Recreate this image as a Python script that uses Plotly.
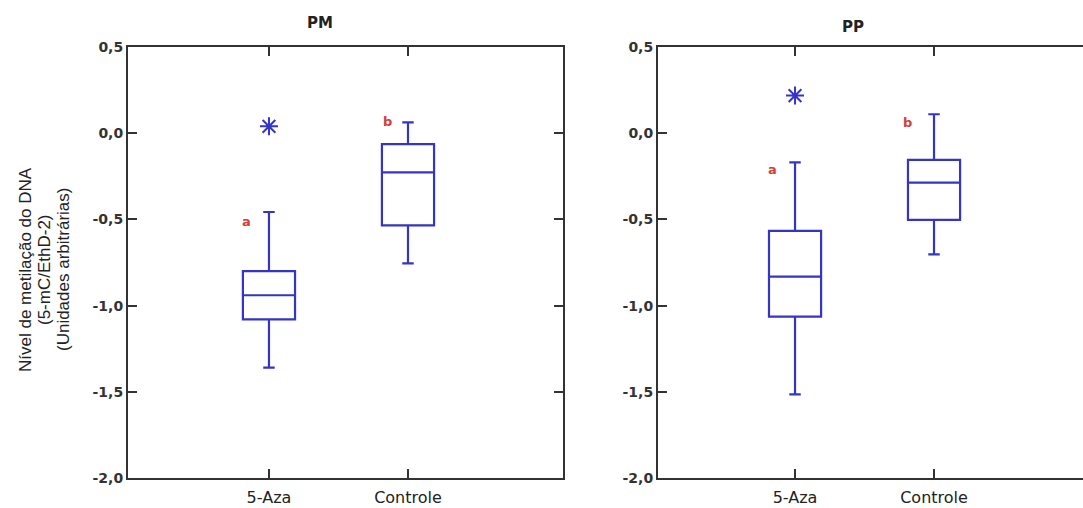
import plotly.graph_objects as go

# ---- data ----
groups = ["5-Aza", "Controle"]
group_pos = [1, 2]

pm_q1 = [-1.08, -0.535]
pm_median = [-0.94, -0.227]
pm_q3 = [-0.80, -0.063]
pm_low = [-1.36, -0.755]
pm_high = [-0.457, 0.063]
pm_outlier = [0.04]

pp_q1 = [-1.064, -0.503]
pp_median = [-0.832, -0.287]
pp_q3 = [-0.567, -0.155]
pp_low = [-1.515, -0.703]
pp_high = [-0.169, 0.11]
pp_outlier = [0.218]

letters = ["a", "b"]
pm_letter_x = [0.835, 1.856]
pm_letter_y = [-0.515, 0.07]
pp_letter_x = [0.835, 1.806]
pp_letter_y = [-0.213, 0.06]

ytick_vals = [0.5, 0.0, -0.5, -1.0, -1.5, -2.0]
ytick_text = ["0,5", "0,0", "-0,5", "-1,0", "-1,5", "-2,0"]

ylabel_lines = ["Nível de metilação do DNA", "(5-mC/EthD-2)", "(Unidades arbitrárias)"]

W, H = 1083, 508
BLUE = "#3434c8"
RED = "#d2403a"
AX = "#333333"

fig = go.Figure()

def add_panel(xa, ya, q1, med, q3, lo, hi, outl):
    fig.add_trace(go.Box(
        x=group_pos, q1=q1, median=med, q3=q3, lowerfence=lo, upperfence=hi,
        width=0.375, whiskerwidth=0.22, boxpoints=False,
        line=dict(color=BLUE, width=2.2), fillcolor="rgba(0,0,0,0)",
        xaxis=xa, yaxis=ya, showlegend=False, hoverinfo="skip"))
    fig.add_trace(go.Scatter(
        x=[group_pos[0]] * len(outl), y=outl, mode="markers",
        marker=dict(symbol="asterisk-open", size=15, color=BLUE,
                    line=dict(color=BLUE, width=2)),
        xaxis=xa, yaxis=ya, showlegend=False, hoverinfo="skip"))

add_panel("x", "y", pm_q1, pm_median, pm_q3, pm_low, pm_high, pm_outlier)
add_panel("x2", "y2", pp_q1, pp_median, pp_q3, pp_low, pp_high, pp_outlier)

def px_x(p):
    return p / W

def px_y(p):
    return 1 - p / H

ydom = [px_y(478), px_y(47)]

xcommon = dict(tickvals=group_pos, ticktext=groups, ticks="inside", ticklen=9,
               tickwidth=2, tickcolor=AX, showline=True, linecolor=AX, linewidth=2,
               mirror="ticks", showgrid=False, zeroline=False, automargin=False,
               ticklabelstandoff=4,
               tickfont=dict(family="DejaVu Sans", size=16, color="#222222"))
ycommon = dict(range=[-2.0, 0.5], tickvals=ytick_vals, ticktext=ytick_text,
               ticks="inside", ticklen=9, tickwidth=2, tickcolor=AX, showline=True,
               linecolor=AX, linewidth=2, showgrid=False, zeroline=False, automargin=False,
               tickfont=dict(family="DejaVu Sans", size=14, color="#333333", weight="bold"))

fig.update_layout(
    width=W, height=H,
    margin=dict(l=0, r=0, t=0, b=0),
    paper_bgcolor="white", plot_bgcolor="white",
    xaxis=dict(domain=[px_x(128), px_x(563)], range=[-0.014, 3.115], anchor="y", **xcommon),
    yaxis=dict(domain=ydom, anchor="x", mirror="ticks", **ycommon),
    xaxis2=dict(domain=[px_x(658), 1.0], range=[0.014, 3.072], anchor="y2", **xcommon),
    yaxis2=dict(domain=ydom, anchor="x2", mirror=False, **ycommon),
)

ann = []
ann.append(dict(text="<b>PM</b>", x=px_x(320), y=px_y(23), xref="paper", yref="paper",
                xanchor="center", yanchor="middle", showarrow=False,
                font=dict(family="DejaVu Sans", size=15, color="#222222")))
ann.append(dict(text="<b>PP</b>", x=px_x(853), y=px_y(27), xref="paper", yref="paper",
                xanchor="center", yanchor="middle", showarrow=False,
                font=dict(family="DejaVu Sans", size=15, color="#222222")))
for line, xp in zip(ylabel_lines, [25, 44, 63]):
    ann.append(dict(text=line, x=px_x(xp), y=px_y(270), xref="paper", yref="paper",
                    xanchor="center", yanchor="middle", textangle=-90, showarrow=False,
                    font=dict(family="Liberation Sans", size=17, color="#222222")))
for xs, ys, xr, yr in [(pm_letter_x, pm_letter_y, "x", "y"), (pp_letter_x, pp_letter_y, "x2", "y2")]:
    for t, xv, yv in zip(letters, xs, ys):
        ann.append(dict(text="<b>%s</b>" % t, x=xv, y=yv, xref=xr, yref=yr, showarrow=False,
                        xanchor="center", yanchor="middle",
                        font=dict(family="DejaVu Sans", size=13, color=RED)))
fig.update_layout(annotations=ann)

fig.write_html("out.html", config={"displayModeBar": False},
               post_script="document.body.style.margin='0';")
